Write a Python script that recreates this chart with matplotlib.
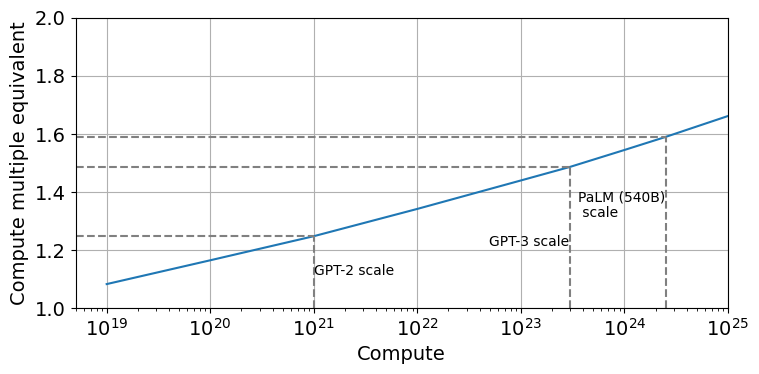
import numpy as np
import matplotlib.pyplot as plt

# Curve
compute = [1e19, 1e20, 1e21, 1e22, 1e23, 3.0e23, 1e24, 2.5e24, 1e25]
multiple = [1.083, 1.165, 1.248, 1.342, 1.44, 1.487, 1.545, 1.59, 1.662]

# Reference model scales
scale_names = ["GPT-2 scale", "GPT-3 scale", "PaLM (540B)\n scale"]
scale_compute = [1e21, 3.0e23, 2.5e24]
scale_multiple = [1.248, 1.487, 1.59]

fig, ax = plt.subplots(figsize=(7.59, 3.74), dpi=100)
fig.subplots_adjust(left=0.0995, right=0.959, top=0.952, bottom=0.176)

ax.plot(compute, multiple, color="tab:blue")
ax.set_xscale("log")
ax.set_xlim(5e18, 1e25)
ax.set_ylim(1.0, 2.0)

for c, m in zip(scale_compute, scale_multiple):
    ax.plot([5e18, c], [m, m], linestyle="--", color="gray")
    ax.plot([c, c], [1.0, m], linestyle="--", color="gray")

ax.text(scale_compute[0], 1.128, scale_names[0], ha="left", va="center", fontsize=10)
ax.text(scale_compute[1] * 0.97, 1.228, scale_names[1], ha="right", va="center", fontsize=10)
ax.text(scale_compute[1] * 1.19, 1.355, scale_names[2], ha="left", va="center", fontsize=10)

ax.set_xlabel("Compute", fontsize=14)
ax.set_ylabel("Compute multiple equivalent", fontsize=14)
ax.tick_params(labelsize=14)
ax.grid(which="major")

plt.savefig("out.png")
